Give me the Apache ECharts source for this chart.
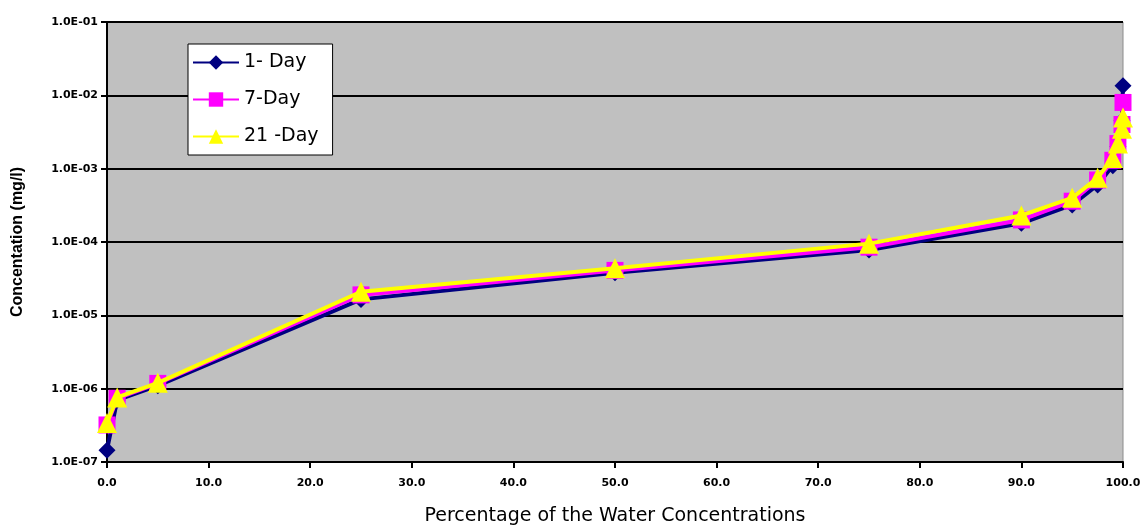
<!DOCTYPE html>
<html>
<head>
<meta charset="utf-8">
<script src="https://cdn.jsdelivr.net/npm/echarts@6/dist/echarts.min.js"></script>
<style>
  html, body { margin: 0; padding: 0; background: #fff; }
  #main { width: 1141px; height: 527px; }
</style>
</head>
<body>
<div id="main"></div>
<script>
// percentile positions (x) and concentrations (mg/l)
var percentiles = [0, 1, 5, 25, 50, 75, 90, 95, 97.5, 99, 99.5, 99.9, 100];
var day1 = [1.45e-7, 7.0e-7, 1.1e-6, 1.65e-5, 3.8e-5, 7.8e-5, 1.8e-4, 3.2e-4, 6.0e-4, 1.1e-3, 2.0e-3, 4.5e-3, 1.35e-2];
var day7 = [3.2e-7, 7.4e-7, 1.18e-6, 1.9e-5, 4.1e-5, 8.5e-5, 2.0e-4, 3.6e-4, 7.0e-4, 1.3e-3, 2.2e-3, 4.0e-3, 8.0e-3];
var day21 = [3.4e-7, 7.6e-7, 1.2e-6, 2.1e-5, 4.4e-5, 9.5e-5, 2.3e-4, 4.0e-4, 7.5e-4, 1.4e-3, 2.2e-3, 3.5e-3, 5.0e-3];
var seriesNames = ["1- Day", "7-Day", "21 -Day"];

function pairs(vals) {
  return percentiles.map(function (p, i) { return [p, vals[i]]; });
}

var myChart = echarts.init(document.getElementById("main"));
myChart.setOption({
  animation: false,
  textStyle: { fontFamily: "Liberation Sans, Arial, sans-serif" },
  grid: {
    left: 107,
    right: 18,
    top: 22,
    bottom: 65,
    outerBoundsMode: "none",
    containLabel: false,
    show: true,
    backgroundColor: "#c0c0c0",
    borderColor: "#8c8c8c",
    borderWidth: 1,
  },
  legend: {
    orient: "vertical",
    left: 188,
    top: 44,
    padding: [9, 14, 9, 4],
    backgroundColor: "#fff",
    borderColor: "#000",
    borderWidth: 1,
    itemWidth: 46,
    itemHeight: 18,
    itemGap: 18,
    textStyle: { fontSize: 19, color: "#000", fontFamily: "DejaVu Sans" },
    data: seriesNames,
  },
  xAxis: {
    type: "value",
    min: 0,
    max: 100,
    interval: 10,
    name: "Percentage of the Water Concentrations",
    nameLocation: "middle",
    nameGap: 45,
    nameTextStyle: { fontSize: 19, color: "#000", fontFamily: "DejaVu Sans" },
    axisLine: { lineStyle: { color: "#000", width: 2 } },
    axisTick: { show: true, length: 6, lineStyle: { color: "#000", width: 2 } },
    axisLabel: {
      fontSize: 11,
      fontWeight: "bold",
      fontFamily: "DejaVu Sans",
      color: "#000",
      margin: 16,
      formatter: function (v) { return v.toFixed(1); },
    },
    splitLine: { show: false },
  },
  yAxis: {
    type: "log",
    logBase: 10,
    min: 1e-7,
    max: 1e-1,
    name: "Concentation (mg/l)",
    nameLocation: "middle",
    nameGap: 81,
    nameRotate: 90,
    nameTextStyle: { fontSize: 16, fontWeight: "bold", color: "#000" },
    axisLine: { show: true, lineStyle: { color: "#000", width: 2 } },
    axisTick: { show: true, length: 6, lineStyle: { color: "#000", width: 2 } },
    axisLabel: {
      fontSize: 11,
      fontWeight: "bold",
      fontFamily: "DejaVu Sans",
      color: "#000",
      margin: 9,
      formatter: function (v) {
        var e = Math.round(Math.log10(v));
        var s = Math.abs(e) < 10 ? "0" + Math.abs(e) : "" + Math.abs(e);
        return "1.0E" + (e < 0 ? "-" : "+") + s;
      },
    },
    splitLine: { show: true, lineStyle: { color: "#000", width: 2 } },
  },
  series: [
    {
      name: seriesNames[0],
      type: "line",
      data: pairs(day1),
      symbol: "diamond",
      symbolSize: 17,
      lineStyle: { color: "#000080", width: 4 },
      itemStyle: { color: "#000080" },
      z: 2,
    },
    {
      name: seriesNames[1],
      type: "line",
      data: pairs(day7),
      symbol: "rect",
      symbolSize: 17,
      lineStyle: { color: "#ff00ff", width: 4 },
      itemStyle: { color: "#ff00ff" },
      z: 3,
    },
    {
      name: seriesNames[2],
      type: "line",
      data: pairs(day21),
      symbol: "triangle",
      symbolSize: 20,
      lineStyle: { color: "#ffff00", width: 4 },
      itemStyle: { color: "#ffff00" },
      z: 4,
    },
  ],
});
</script>
</body>
</html>
